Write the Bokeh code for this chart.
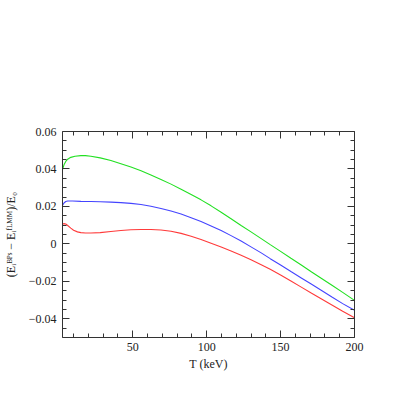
from bokeh.plotting import figure
from bokeh.models import LinearAxis, FixedTicker, Range1d, CustomJSTickFormatter
from bokeh.embed import file_html
from bokeh.resources import INLINE

# ---- data ----
green_T = [2.5, 3.5, 4.7, 6, 8.1, 11, 14.9, 18, 21.7, 28, 35.2, 42, 48.8,
           55.6, 62.3, 69.1, 75.9, 82.7, 89.5, 96.2, 103, 109.8, 116.5, 123.3,
           130, 136.9, 143, 150, 157, 164, 171, 178, 185, 192, 200]
green_y = [0.0397, 0.0422, 0.0440, 0.0452, 0.0462, 0.0468, 0.0471, 0.0471,
           0.0468, 0.0459, 0.0445, 0.0428, 0.0410, 0.0390, 0.0368, 0.0344,
           0.0319, 0.0292, 0.0264, 0.0235, 0.0203, 0.0169, 0.0134, 0.0098,
           0.0064, 0.0028, -0.0004, -0.0040, -0.0077, -0.0113, -0.0150,
           -0.0186, -0.0222, -0.0259, -0.0302]

blue_T = [2.5, 3.5, 4.7, 6, 9.3, 14.9, 21.7, 28, 35.2, 42, 48.8, 55.6, 62.3,
          69.1, 75.9, 82.7, 89.5, 96.2, 103, 109.8, 116.5, 123.3, 130, 136.9,
          143, 150, 157, 164, 171, 178, 185, 192, 200]
blue_y = [0.0205, 0.0218, 0.0226, 0.0229, 0.0229, 0.0227, 0.0226, 0.0225,
          0.0223, 0.0220, 0.0216, 0.0210, 0.0201, 0.0189, 0.0175, 0.0159,
          0.0140, 0.0119, 0.0096, 0.0071, 0.0044, 0.0015, -0.0016, -0.0048,
          -0.0079, -0.0113, -0.0148, -0.0182, -0.0216, -0.0250, -0.0285,
          -0.0319, -0.0355]

red_T = [2.5, 3.5, 4.7, 6, 8.1, 10, 12.6, 14.9, 18, 21.7, 28, 35.2, 42, 48.8,
         55.6, 62.3, 69.1, 75.9, 82.7, 89.5, 96.2, 103, 109.8, 116.5, 123.3,
         130, 136.9, 143, 150, 157, 164, 171, 178, 185, 192, 200]
red_y = [0.0105, 0.0108, 0.0106, 0.0098, 0.0084, 0.0073, 0.0064, 0.0060,
         0.0058, 0.0058, 0.0060, 0.0066, 0.0071, 0.0075, 0.0077, 0.0077,
         0.0074, 0.0067, 0.0056, 0.0041, 0.0023, 0.0003, -0.0017, -0.0038,
         -0.0061, -0.0085, -0.0111, -0.0136, -0.0166, -0.0198, -0.0231,
         -0.0264, -0.0296, -0.0328, -0.0360, -0.0394]

x_major = [50, 100, 150, 200]
x_minor = [10, 20, 30, 40, 60, 70, 80, 90, 110, 120, 130, 140, 160, 170, 180, 190]
y_major = [-0.04, -0.02, 0.0, 0.02, 0.04, 0.06]
y_minor = [-0.05, -0.045, -0.035, -0.03, -0.025, -0.015, -0.01, -0.005,
           0.005, 0.01, 0.015, 0.025, 0.03, 0.035, 0.045, 0.05, 0.055]
y_labels = {-0.04: "\u22120.04", -0.02: "\u22120.02", 0.0: "0",
            0.02: "0.02", 0.04: "0.04", 0.06: "0.06"}
x_title = "T (keV)"
y_title = "(E\u1d62\u1d2e\u1d3e\u02e2 \u2212 E\u1d62\u1da0\u1d38\u1d39\u1d39)/E\u2080"

FONT = "Liberation Serif"
AXC = "#333333"
W, H = 383, 383
BL, BT, FW, FH = 62, 131, 292, 206

p = figure(width=W, height=H, output_backend="svg", toolbar_location=None,
           x_range=Range1d(2.5, 200), y_range=Range1d(-0.05, 0.06),
           min_border_left=BL, min_border_right=W - BL - FW,
           min_border_top=BT, min_border_bottom=H - BT - FH)
p.outline_line_color = None
p.grid.visible = False
p.background_fill_color = "white"
p.border_fill_color = "white"

p.line(green_T, green_y, line_color="#22e022", line_width=1.1)
p.line(blue_T, blue_y, line_color="#4444ff", line_width=1.1)
p.line(red_T, red_y, line_color="#ff3a3a", line_width=1.1)

xt = FixedTicker(ticks=x_major, minor_ticks=x_minor)
yt = FixedTicker(ticks=y_major, minor_ticks=y_minor)

def style(ax):
    ax.axis_line_color = AXC
    ax.major_tick_line_color = AXC
    ax.minor_tick_line_color = AXC
    ax.major_tick_in = 7
    ax.major_tick_out = 0
    ax.minor_tick_in = 4
    ax.minor_tick_out = 0
    ax.major_label_text_font = FONT
    ax.major_label_text_font_size = "12px"
    ax.major_label_text_color = "#222222"
    ax.axis_label_text_font = FONT
    ax.axis_label_text_font_size = "12px"
    ax.axis_label_text_font_style = "normal"
    ax.axis_label_text_color = "#222222"

style(p.xaxis[0])
p.xaxis[0].ticker = xt
p.xaxis[0].major_label_standoff = 5
p.xaxis[0].axis_label = x_title
p.xaxis[0].axis_label_standoff = 3

style(p.yaxis[0])
p.yaxis[0].ticker = yt
p.yaxis[0].major_label_overrides = y_labels
p.yaxis[0].major_label_standoff = 6
p.yaxis[0].axis_label = y_title
p.yaxis[0].axis_label_standoff = 8

blank = CustomJSTickFormatter(code="return ''")
for loc, tk in (("right", yt), ("above", xt)):
    ax = LinearAxis(ticker=tk, formatter=blank)
    style(ax)
    ax.major_label_text_font_size = "1px"
    ax.major_label_standoff = 0
    p.add_layout(ax, loc)

open("out.html", "w").write(file_html(p, INLINE))
